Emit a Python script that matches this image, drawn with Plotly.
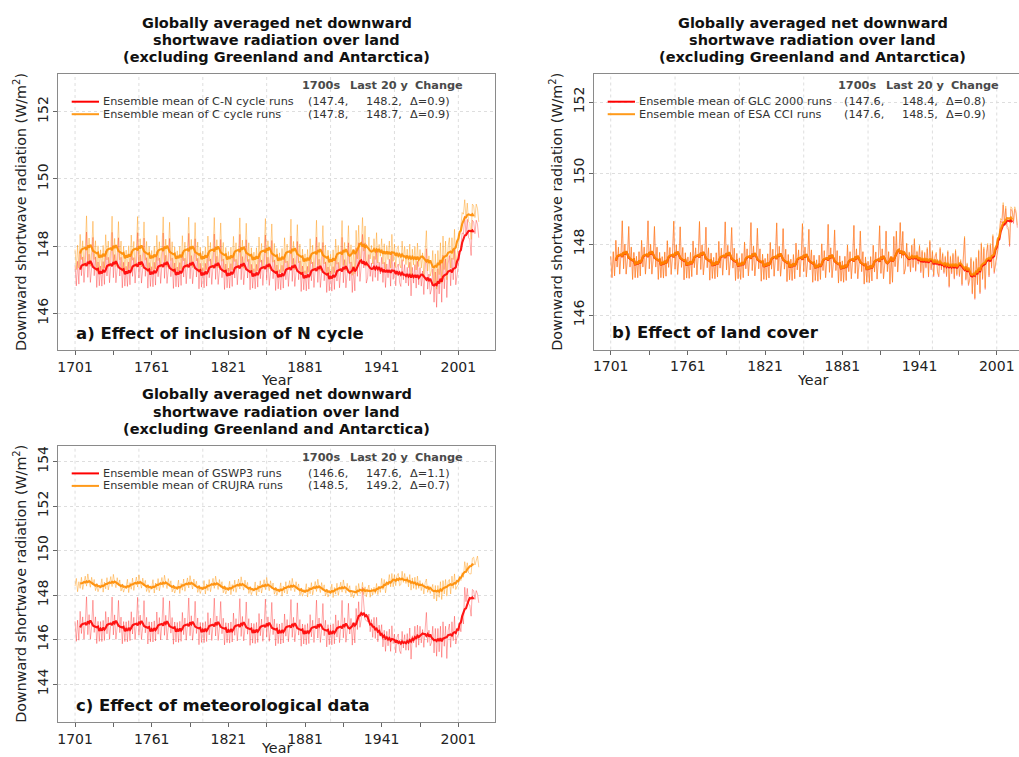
import numpy as np
import pandas as pd
import plotly.graph_objects as go

FONT = "DejaVu Sans"
W, H = 1019, 757

# ---------------- data ----------------
YEARS = np.arange(1701, 2018)
# level blocks: 20-yr blocks in the spin-up (recycled 1901-1920 climate), 5-yr blocks afterwards
BLOCK_STARTS = [1701, 1721, 1741, 1761, 1781, 1801, 1821, 1841, 1861, 1881,
                1901, 1906, 1911, 1916, 1921, 1926, 1931, 1936, 1941, 1946,
                1951, 1956, 1961, 1966, 1971, 1976, 1981, 1986, 1991, 1996,
                2001, 2006, 2011, 2016]

# year-to-year anomalies 1901-2017 (the 1901-1920 part is recycled in 1701-1900)
anom_ab = [0.05, -0.55, 0.18, -0.50, 0.50, -0.25, 0.31, -0.45, 0.09, 1.05,
           -0.30, 0.39, -0.45, -0.03, 0.89, -0.25, 0.31, -0.60, 0.16, -0.55,
           0.45, -0.40, 0.60, -0.55, -0.10, 0.80, -0.20, 0.55, -0.65, -0.50,
           0.35, -0.30, 0.10, -0.45, 0.30, -0.25, 0.55, -0.35, 0.20, -0.15,
           0.40, -0.35, 0.25, -0.50, 0.20, -0.20, 0.35, -0.45, 0.55, -0.25,
           0.30, -0.40, 0.15, 0.25, -0.30, -0.35, 0.45, -0.15, 0.30, -0.25,
           0.25, -0.30, 0.40, -0.60, 0.25, -0.20, 0.35, -0.35, 0.45, -0.25,
           0.30, -0.25, 0.20, -0.50, 0.25, 0.90, -0.30, 0.15, -0.45, -0.30,
           0.45, -0.55, 0.35, -0.70, 0.45, -0.40, 0.55, -0.65, 0.75, -0.25,
           0.40, -0.75, 0.25, 0.50, -0.40, 0.35, -0.30, 0.60, -0.45, -0.20,
           -0.55, -0.35, 0.05, 0.45, 0.40, 0.40, -0.15, 0.30, -0.25, -0.30,
           -0.75, 0.30, 0.25, -0.10, 0.30, 0.20, -0.20]
anom_gswp3 = [0.20, -0.70, 0.25, -0.65, 0.65, -0.35, 0.40, -0.60, 0.10, 1.30,
              -0.40, 0.50, -0.60, -0.05, 1.15, -0.30, 0.40, -0.80, 0.20, -0.70,
              0.40, -0.55, 0.70, -0.45, -0.10, 1.05, 0.30, -0.40, -0.45, -0.50,
              0.45, -0.35, 0.20, -0.60, 0.30, -0.30, 0.65, -0.45, 0.30, -0.20,
              0.55, -0.45, 0.30, -0.65, 0.25, -0.30, 0.45, -0.55, 0.60, -0.20,
              0.35, -0.50, 0.20, 0.35, -0.40, -0.45, 0.55, -0.20, 0.40, -0.30,
              0.35, -0.40, 0.60, -0.80, 0.25, -0.25, 0.50, -0.45, 0.55, -0.35,
              0.40, -0.35, 0.25, -0.55, 0.25, 1.00, -0.35, 0.20, -0.50, -0.35,
              0.55, -0.65, 0.45, -0.80, 0.45, -0.50, 0.65, -0.75, 0.85, -0.25,
              0.50, -0.95, 0.30, 0.60, -0.45, 0.45, -0.40, 0.70, -0.55, -0.20,
              -0.40, 0.10, -0.25, 0.45, 0.10, 0.45, -0.20, 0.40, -0.30, -0.35,
              -0.85, 0.35, 0.30, -0.10, 0.30, 0.20, -0.20]
anom_crujra = [-0.10, 0.25, -0.35, 0.10, -0.20, 0.30, -0.25, 0.05, 0.35, -0.10,
               0.45, 0.10, -0.15, 0.30, -0.05, 0.20, -0.30, -0.10, -0.35, -0.15,
               0.20, -0.25, 0.30, -0.15, -0.10, 0.35, -0.20, 0.15, -0.30, 0.00,
               0.25, -0.30, 0.10, -0.20, 0.15, -0.15, 0.30, -0.20, 0.15, -0.10,
               0.30, -0.20, 0.25, -0.35, 0.00, -0.15, 0.30, -0.25, 0.35, -0.25,
               0.20, -0.30, 0.15, 0.25, -0.30, -0.25, 0.35, -0.15, 0.25, -0.20,
               0.20, -0.25, 0.30, -0.40, 0.15, -0.20, 0.30, -0.25, 0.35, -0.20,
               0.25, -0.20, 0.15, -0.35, 0.15, 0.40, -0.20, 0.10, -0.25, -0.05,
               0.30, -0.35, 0.25, -0.45, 0.25, -0.30, 0.40, -0.40, 0.45, -0.15,
               0.30, -0.45, 0.20, 0.30, -0.35, 0.30, -0.25, 0.40, -0.30, -0.15,
               -0.30, 0.10, -0.10, 0.25, 0.05, 0.30, -0.10, 0.25, -0.20, -0.25,
               -0.50, 0.20, 0.25, -0.10, 0.15, 0.25, -0.25]

# block levels (W/m2) per series
level_cn = [147.37, 147.36, 147.35, 147.34, 147.33, 147.31, 147.30, 147.28, 147.25, 147.22,
            147.21, 147.21, 147.21, 147.22, 147.50, 147.55, 147.40, 147.32, 147.27, 147.26,
            147.22, 147.15, 147.12, 147.10, 147.06, 147.02, 146.88, 146.98, 147.22, 147.30,
            147.95, 148.50, 148.47, 148.45]
level_c = [147.85, 147.84, 147.83, 147.82, 147.81, 147.80, 147.79, 147.77, 147.75, 147.72,
           147.71, 147.71, 147.72, 147.73, 148.02, 148.05, 147.92, 147.85, 147.82, 147.80,
           147.76, 147.70, 147.66, 147.64, 147.60, 147.56, 147.42, 147.55, 147.75, 147.90,
           148.55, 148.98, 148.95, 148.92]
level_glc = [147.60, 147.60, 147.59, 147.58, 147.57, 147.55, 147.54, 147.52, 147.50, 147.47,
             147.46, 147.46, 147.47, 147.47, 147.76, 147.80, 147.66, 147.58, 147.54, 147.52,
             147.48, 147.42, 147.38, 147.36, 147.33, 147.28, 147.14, 147.25, 147.47, 147.62,
             148.20, 148.70, 148.68, 148.66]
level_esa = [147.61, 147.61, 147.60, 147.59, 147.58, 147.56, 147.55, 147.53, 147.51, 147.48,
             147.47, 147.47, 147.48, 147.48, 147.77, 147.81, 147.68, 147.61, 147.58, 147.56,
             147.52, 147.46, 147.42, 147.40, 147.37, 147.32, 147.18, 147.29, 147.52, 147.67,
             148.27, 148.77, 148.75, 148.73]
level_gswp3 = [146.62, 146.61, 146.60, 146.59, 146.57, 146.56, 146.54, 146.52, 146.50, 146.47,
               146.46, 146.46, 146.48, 146.55, 147.00, 147.30, 146.70, 146.35, 146.12, 146.02,
               145.90, 145.82, 145.92, 146.10, 146.20, 146.22, 146.05, 145.95, 146.10, 146.35,
               146.60, 147.90, 147.90, 147.85]
level_crujra = [148.50, 148.48, 148.46, 148.44, 148.42, 148.40, 148.37, 148.34, 148.30, 148.26,
                148.24, 148.23, 148.23, 148.22, 148.22, 148.22, 148.20, 148.22, 148.45, 148.62,
                148.72, 148.72, 148.62, 148.50, 148.40, 148.32, 148.18, 148.20, 148.40, 148.55,
                148.75, 149.20, 149.45, 149.50]

# legend content
names_a = ["Ensemble mean of C-N cycle runs", "Ensemble mean of C cycle runs"]
names_b = ["Ensemble mean of GLC 2000 runs", "Ensemble mean of ESA CCI runs"]
names_c = ["Ensemble mean of GSWP3 runs", "Ensemble mean of CRUJRA runs"]
mean1700_a, last20_a, change_a = [147.4, 147.8], [148.2, 148.7], [0.9, 0.9]
mean1700_b, last20_b, change_b = [147.6, 147.6], [148.4, 148.5], [0.8, 0.9]
mean1700_c, last20_c, change_c = [146.6, 148.5], [147.6, 149.2], [1.1, 0.7]

XLABELS = list(range(1701, 2002, 60))
XMINOR = list(range(1731, 2002, 60))
VGRID = list(range(1701, 2002, 50))

for arr in (anom_ab, anom_gswp3, anom_crujra):
    assert len(arr) == 117, len(arr)
for arr in (level_cn, level_c, level_glc, level_esa, level_gswp3, level_crujra):
    assert len(arr) == len(BLOCK_STARTS), len(arr)


def annual(levels, anoms):
    idx = np.searchsorted(BLOCK_STARTS, YEARS, side="right") - 1
    lev = np.asarray(levels, float)[idx]
    an = np.asarray(anoms, float)
    pos = np.where(YEARS < 1901, (YEARS - 1701) % 20, YEARS - 1901)
    return np.round(lev + an[pos], 2)


def smooth(v):
    return pd.Series(v).rolling(9, center=True).mean().to_numpy()


def fx(x):
    return x / W


def fy(y):
    return 1 - y / H


RED_THIN = "rgba(255,0,0,0.33)"
ORG_THIN = "rgba(255,145,0,0.42)"
RED = "#ff0000"
ORG = "#ff8c00"

PANELS = [
    dict(xa="x", ya="y", L=58.3, R=495.0, T=74.0, B=350.0,
         xr=[1687.9, 2029.7], yr=[144.91, 153.12], yt=[146, 148, 150, 152],
         label="a) Effect of inclusion of N cycle",
         series=[annual(level_cn, anom_ab), annual(level_c, anom_ab)],
         names=names_a, m=mean1700_a, l=last20_a, d=change_a, mirror_y=True),
    dict(xa="x2", ya="y2", L=594.3, R=1019.0, T=74.0, B=349.5,
         xr=[1688.25, 2018.3], yr=[145.03, 152.79], yt=[146, 148, 150, 152],
         label="b) Effect of land cover",
         series=[annual(level_glc, anom_ab), annual(level_esa, anom_ab)],
         names=names_b, m=mean1700_b, l=last20_b, d=change_b, mirror_y=False),
    dict(xa="x3", ya="y3", L=58.3, R=495.0, T=445.7, B=721.7,
         xr=[1687.9, 2029.7], yr=[142.31, 154.71], yt=[144, 146, 148, 150, 152, 154],
         label="c) Effect of meteorological data",
         series=[annual(level_gswp3, anom_gswp3), annual(level_crujra, anom_crujra)],
         names=names_c, m=mean1700_c, l=last20_c, d=change_c, mirror_y=True),
]

fig = go.Figure()
annotations = []
shapes = []


def txt(x, y, s, size, bold=False, color="#111", xanchor="left", angle=0):
    return dict(x=fx(x), y=fy(y), xref="paper", yref="paper",
                text=f"<b>{s}</b>" if bold else s, showarrow=False,
                xanchor=xanchor, yanchor="middle", textangle=angle,
                font=dict(family=FONT, size=size, color=color))


TITLE = ["Globally averaged net downward", "shortwave radiation over land",
         "(excluding Greenland and Antarctica)"]

for i, p in enumerate(PANELS):
    s_red, s_org = p["series"]
    for vals, col in ((s_red, RED_THIN), (s_org, ORG_THIN)):
        fig.add_trace(go.Scatter(x=YEARS, y=vals, mode="lines", xaxis=p["xa"], yaxis=p["ya"],
                                 line=dict(color=col, width=1), showlegend=False,
                                 hoverinfo="skip"))
    for vals, col in ((s_red, RED), (s_org, ORG)):
        fig.add_trace(go.Scatter(x=YEARS, y=smooth(vals), mode="lines", xaxis=p["xa"], yaxis=p["ya"],
                                 line=dict(color=col, width=2.1), opacity=0.9,
                                 showlegend=False, hoverinfo="skip"))
    n = "" if i == 0 else str(i + 1)
    fig.layout["xaxis" + n] = dict(
        domain=[fx(p["L"]), fx(p["R"])], range=p["xr"], anchor=p["ya"],
        tickmode="array", tickvals=XLABELS,
        ticks="outside", ticklen=4, tickwidth=1, tickcolor="#666",
        minor=dict(tickmode="array", tickvals=XMINOR, ticks="outside", ticklen=4,
                   tickwidth=1, tickcolor="#666", showgrid=False),
        showgrid=False, zeroline=False, showline=True, linecolor="#8a8a8a",
        linewidth=1.3, mirror=True,
        tickfont=dict(family=FONT, size=14, color="#222"))
    fig.layout["yaxis" + n] = dict(
        domain=[fy(p["B"]), fy(p["T"])], range=p["yr"], anchor=p["xa"],
        tickmode="array", tickvals=p["yt"], tickangle=-90,
        ticks="outside", ticklen=4, tickwidth=1, tickcolor="#666",
        showgrid=True, gridcolor="#dedede", gridwidth=1, griddash="dot",
        zeroline=False, showline=True, linecolor="#8a8a8a", linewidth=1.3,
        mirror=p["mirror_y"],
        tickfont=dict(family=FONT, size=14, color="#222"))
    for g in VGRID:
        shapes.append(dict(type="line", xref=p["xa"], yref=p["ya"] + " domain",
                           x0=g, x1=g, y0=0, y1=1, layer="below",
                           line=dict(color="#dedede", width=1, dash="dot")))

    L, R, T, B = p["L"], p["R"], p["T"], p["B"]
    cx = L + 218.3
    for k, line in enumerate(TITLE):
        annotations.append(txt(cx, T - 51.3 + 17.1 * k, line, 14.5, bold=True,
                               color="#111", xanchor="center"))
    annotations.append(txt(L - 38.3, (T + B) / 2,
                           "Downward shortwave radiation (W/m<sup>2</sup>)", 14.3,
                           color="#222", xanchor="center", angle=-90))
    annotations.append(txt(cx, min(B + 30, 747.5), "Year", 14.3, color="#222", xanchor="center"))
    annotations.append(txt(L + 16, B - 16.5, p["label"], 16.5, bold=True, color="#111"))
    # legend header
    for off, h in ((241.7, "1700s"), (289.7, "Last 20 y"), (354.7, "Change")):
        annotations.append(txt(L + off, T + 11.7, h, 11.3, bold=True, color="#4a4a4a"))
    for r, col in enumerate((RED, "#ff9a1a")):
        yy = T + 27.7 + 12.5 * r
        shapes.append(dict(type="line", xref="paper", yref="paper",
                           x0=fx(L + 13.4), x1=fx(L + 40.7), y0=fy(yy), y1=fy(yy),
                           line=dict(color=col, width=2)))
        annotations.append(txt(L + 42.5, yy, p["names"][r], 11.3, color="#333"))
        annotations.append(txt(L + 247.5, yy, f"({p['m'][r]:.1f},", 11.3, color="#333"))
        annotations.append(txt(L + 305.8, yy, f"{p['l'][r]:.1f},", 11.3, color="#333"))
        annotations.append(txt(L + 349.2, yy, f"\u0394={p['d'][r]:.1f})", 11.3, color="#333"))

fig.update_layout(width=W, height=H, margin=dict(l=0, r=0, t=0, b=0, pad=0),
                  paper_bgcolor="white", plot_bgcolor="white",
                  annotations=annotations, shapes=shapes, showlegend=False,
                  font=dict(family=FONT))
fig.write_html("out.html")
